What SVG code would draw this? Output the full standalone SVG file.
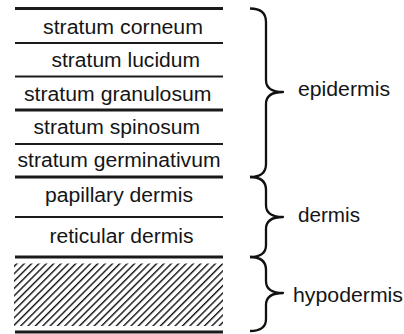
<svg xmlns="http://www.w3.org/2000/svg" width="404" height="334" viewBox="0 0 404 334">
<defs>
<style>
.t{font-family:"Liberation Sans",Arial,sans-serif;font-size:20px;fill:#151515}
.ln{stroke:#1a1a1a;stroke-width:2.2;fill:none}
.thk{stroke-width:3}
.br{stroke:#111;stroke-width:2.3;fill:none;stroke-linejoin:round}
</style>
<pattern id="hatch" patternUnits="userSpaceOnUse" width="5.2" height="5.2" patternTransform="rotate(45)">
<rect width="5.2" height="5.2" fill="#fff"/>
<line x1="0" y1="0" x2="0" y2="5.2" stroke="#111" stroke-width="2.8"/>
</pattern>
</defs>
<rect width="404" height="334" fill="#fff"/>
<g id="layers">
<line class="ln thk" x1="15" y1="8.5" x2="223" y2="8.5"/>
<line class="ln" x1="15" y1="43" x2="223" y2="43"/>
<line class="ln" x1="15" y1="76.5" x2="223" y2="76.5"/>
<line class="ln thk" x1="15" y1="110" x2="223" y2="110"/>
<line class="ln" x1="15" y1="144" x2="223" y2="144"/>
<line class="ln thk" x1="15" y1="177" x2="223" y2="177"/>
<line class="ln" x1="15" y1="217" x2="223" y2="217"/>
<line class="ln thk" x1="15" y1="257" x2="223" y2="257"/>
<rect x="14" y="263.5" width="209" height="62.5" fill="url(#hatch)"/>
<line class="ln thk" x1="15" y1="332" x2="223" y2="332"/>
</g>
<g id="stratum-corneum"><text class="t" x="43" y="33.5" textLength="160" lengthAdjust="spacingAndGlyphs">stratum corneum</text></g>
<g id="stratum-lucidum"><text class="t" x="51.5" y="67" textLength="148.5" lengthAdjust="spacingAndGlyphs">stratum lucidum</text></g>
<g id="stratum-granulosum"><text class="t" x="24" y="100.5" textLength="187.5" lengthAdjust="spacingAndGlyphs">stratum granulosum</text></g>
<g id="stratum-spinosum"><text class="t" x="33.5" y="134" textLength="166.5" lengthAdjust="spacingAndGlyphs">stratum spinosum</text></g>
<g id="stratum-germinativum"><text class="t" x="17.5" y="167" textLength="203" lengthAdjust="spacingAndGlyphs">stratum germinativum</text></g>
<g id="papillary-dermis"><text class="t" x="45" y="201.5" textLength="148" lengthAdjust="spacingAndGlyphs">papillary dermis</text></g>
<g id="reticular-dermis"><text class="t" x="49.5" y="242.5" textLength="144" lengthAdjust="spacingAndGlyphs">reticular dermis</text></g>
<g id="connectors">
<path class="br" d="M250,8.5 Q266,8.5 266,22 L266,80 Q266,92 283,92 Q266,92 266,104 L266,164 Q266,177 250,177"/>
<path class="br" d="M250,177 Q266,177 266,190 L266,205 Q266,217 283,217 Q266,217 266,229 L266,245 Q266,257 250,257"/>
<path class="br" d="M250,257 Q266,257 266,270 L266,281 Q266,293 283,293 Q266,293 266,305 L266,319 Q266,331 250,331"/>
</g>
<g id="epidermis"><text class="t" x="298" y="95.5" textLength="92" lengthAdjust="spacingAndGlyphs">epidermis</text></g>
<g id="dermis"><text class="t" x="298" y="221.5" textLength="62" lengthAdjust="spacingAndGlyphs">dermis</text></g>
<g id="hypodermis"><text class="t" x="293" y="301.5" textLength="110" lengthAdjust="spacingAndGlyphs">hypodermis</text></g>
</svg>
